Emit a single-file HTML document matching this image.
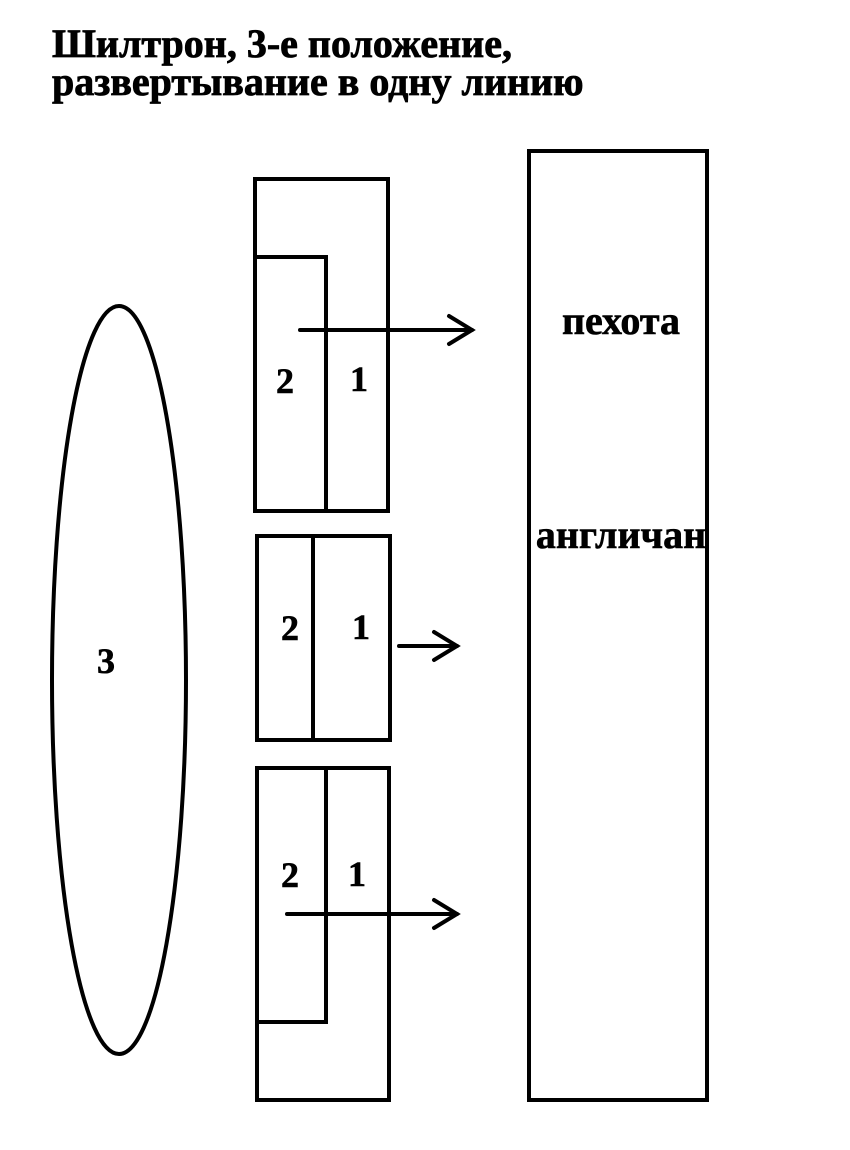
<!DOCTYPE html>
<html><head><meta charset="utf-8"><style>
body{margin:0;background:#fff;width:850px;height:1150px;overflow:hidden}
</style></head><body>
<svg width="850" height="1150" xmlns="http://www.w3.org/2000/svg" style="position:absolute;left:0;top:0">
<g font-family="Liberation Serif, serif" font-weight="bold" fill="#000" stroke="#000" stroke-width="0.8">
<text x="52" y="57" font-size="40">Шилтрон, 3-е положение,</text>
<text x="52" y="95" font-size="40">развертывание в одну линию</text>
</g>
<g fill="none" stroke="#000" stroke-width="4" stroke-linecap="square">
<ellipse cx="119" cy="680" rx="67" ry="374"/>
<rect x="255" y="179" width="133" height="332"/>
<polyline points="255,257 326,257 326,511"/>
<rect x="257" y="536" width="133" height="204"/>
<line x1="313" y1="536" x2="313" y2="740"/>
<rect x="257" y="768" width="132" height="332"/>
<polyline points="326,768 326,1022 257,1022"/>
<rect x="529" y="151" width="178" height="949"/>
</g>
<g fill="none" stroke="#000" stroke-width="4" stroke-linecap="round">
<line x1="300" y1="330" x2="472" y2="330"/><polyline points="449,316 472,330 449,344"/>
<line x1="399" y1="646" x2="457" y2="646"/><polyline points="434,632 457,646 434,660"/>
<line x1="287" y1="914" x2="457" y2="914"/><polyline points="434,900 457,914 434,928"/>
</g>
<g font-family="Liberation Serif, serif" font-weight="bold" fill="#000" stroke="#000" stroke-width="0.6" font-size="36" text-anchor="middle">
<text x="285" y="393">2</text><text x="359" y="391">1</text>
<text x="290" y="640">2</text><text x="361" y="639">1</text>
<text x="290" y="887">2</text><text x="357" y="886">1</text>
<text x="106" y="673">3</text>
<text x="621" y="334" font-size="40">пехота</text>
<text x="621" y="548" font-size="40">англичан</text>
</g>
</svg>
</body></html>
